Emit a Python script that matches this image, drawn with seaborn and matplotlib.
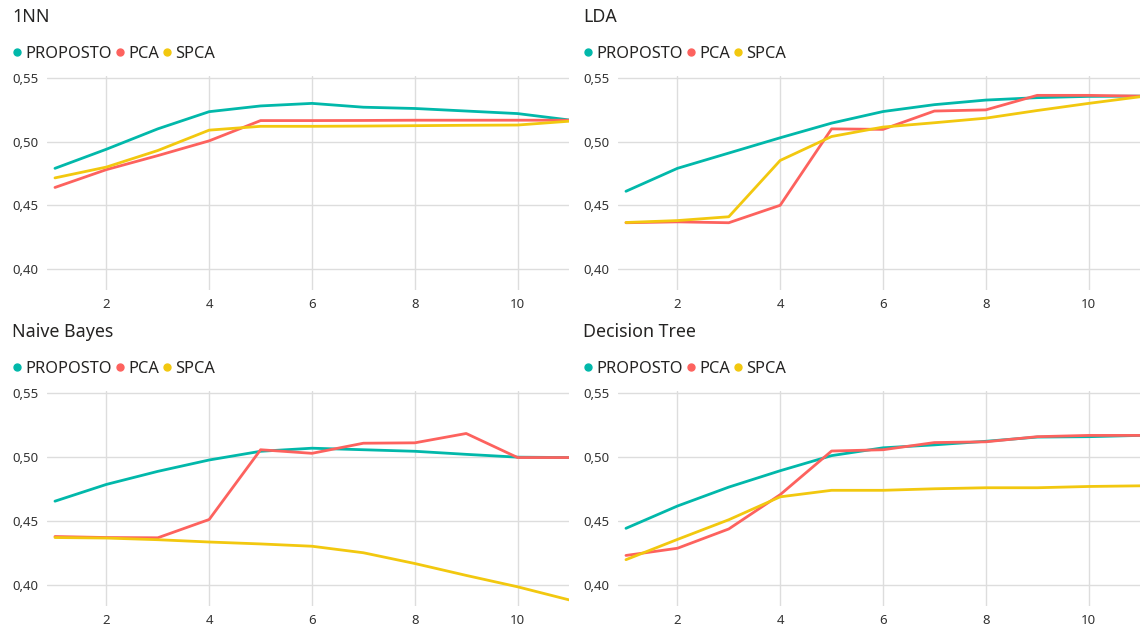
import pandas as pd
import seaborn as sns
import matplotlib.pyplot as plt
from matplotlib.lines import Line2D
from matplotlib.ticker import FuncFormatter

# number of components on the x axis
componentes = list(range(1, 12))
metodos = ["PROPOSTO", "PCA", "SPCA"]
cores = {"PROPOSTO": "#01B8AA", "PCA": "#FD625E", "SPCA": "#F2C80F"}

# accuracy values
nn_proposto = [0.479, 0.494, 0.510, 0.5235, 0.528, 0.530, 0.527, 0.526, 0.524, 0.522, 0.517]
nn_pca = [0.464, 0.478, 0.489, 0.5006, 0.5165, 0.5165, 0.5166, 0.5168, 0.5168, 0.5168, 0.5168]
nn_spca = [0.4715, 0.480, 0.493, 0.509, 0.512, 0.512, 0.5122, 0.5125, 0.5128, 0.513, 0.516]

lda_proposto = [0.461, 0.479, 0.491, 0.503, 0.5145, 0.5236, 0.529, 0.5326, 0.5345, 0.5355, 0.5357]
lda_pca = [0.4363, 0.437, 0.4363, 0.450, 0.510, 0.5096, 0.524, 0.5249, 0.5363, 0.5363, 0.5357]
lda_spca = [0.4365, 0.438, 0.441, 0.4852, 0.504, 0.5114, 0.5148, 0.5184, 0.5244, 0.530, 0.5352]

nb_proposto = [0.4654, 0.4785, 0.4887, 0.4976, 0.5044, 0.5068, 0.5056, 0.5044, 0.502, 0.4998, 0.4995]
nb_pca = [0.4378, 0.437, 0.4368, 0.4511, 0.5056, 0.5028, 0.5107, 0.511, 0.5183, 0.4995, 0.4995]
nb_spca = [0.437, 0.4366, 0.4353, 0.4335, 0.432, 0.4302, 0.4251, 0.4167, 0.4074, 0.3985, 0.3883]

dt_proposto = [0.4442, 0.4616, 0.4764, 0.4892, 0.501, 0.5071, 0.5094, 0.5122, 0.5155, 0.5158, 0.5168]
dt_pca = [0.423, 0.4286, 0.4437, 0.4705, 0.5046, 0.5056, 0.5112, 0.5118, 0.5158, 0.5168, 0.5168]
dt_spca = [0.4197, 0.4355, 0.4509, 0.4688, 0.4739, 0.4739, 0.4751, 0.4759, 0.4759, 0.4769, 0.4774]

paineis = [
    ("1NN", [nn_proposto, nn_pca, nn_spca]),
    ("LDA", [lda_proposto, lda_pca, lda_spca]),
    ("Naive Bayes", [nb_proposto, nb_pca, nb_spca]),
    ("Decision Tree", [dt_proposto, dt_pca, dt_spca]),
]

sns.set_style("white")
plt.rcParams["font.family"] = ["Noto Sans", "DejaVu Sans"]

W, H = 1142, 636
fig = plt.figure(figsize=(W / 100, H / 100), dpi=100)

# axes boxes in pixels: left, top, right, bottom
caixas = [(47, 76, 569, 290), (618, 76, 1140, 290),
          (47, 391, 569, 606), (618, 391, 1140, 606)]

for (titulo, series), (l, t, r, b) in zip(paineis, caixas):
    ax = fig.add_axes([l / W, 1 - b / H, (r - l) / W, (b - t) / H])
    df = pd.DataFrame({
        "x": componentes * 3,
        "acc": series[0] + series[1] + series[2],
        "metodo": [m for m in metodos for _ in componentes],
    })
    sns.lineplot(data=df, x="x", y="acc", hue="metodo", palette=cores,
                 linewidth=2, ax=ax, legend=False)
    ax.set_xlim(0.845, 11.0)
    ax.set_ylim(0.3835, 0.5515)
    ax.set_xticks([2, 4, 6, 8, 10])
    ax.set_yticks([0.40, 0.45, 0.50, 0.55])
    ax.yaxis.set_major_formatter(FuncFormatter(lambda v, p: f"{v:.2f}".replace(".", ",")))
    ax.grid(True, color="#dddddd", linewidth=1)
    ax.set_axisbelow(True)
    for s in ax.spines.values():
        s.set_visible(False)
    ax.tick_params(length=0, labelsize=9.5, colors="#333333", pad=6)
    ax.set_xlabel("")
    ax.set_ylabel("")

    # title and legend above the panel
    fig.text((l - 35) / W, 1 - (t - 59) / H, titulo, fontsize=12.8,
             color="#252423", va="center", ha="left")
    handles = [Line2D([], [], marker="o", linestyle="", markersize=5,
                      color=cores[m]) for m in metodos]
    fig.legend(handles, metodos, loc="center left",
               bbox_to_anchor=((l - 38) / W, 1 - (t - 22) / H), ncol=3,
               frameon=False, fontsize=11.8, handletextpad=0.0,
               columnspacing=0.0, handlelength=1.0, borderaxespad=0,
               borderpad=0, labelcolor="#252423")

fig.savefig("out.png", dpi=100)
